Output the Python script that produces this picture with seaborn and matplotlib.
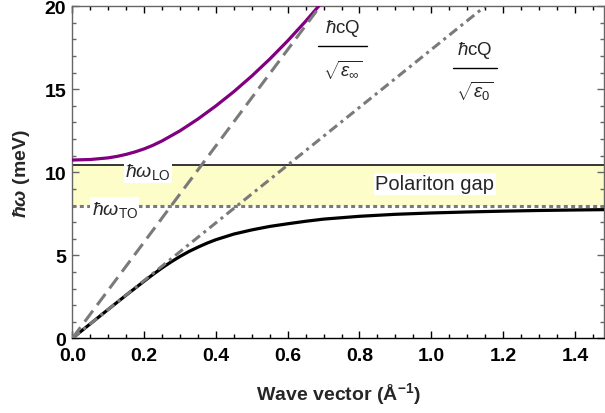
import matplotlib
matplotlib.use("Agg")
import matplotlib.pyplot as plt
from matplotlib.ticker import MultipleLocator
import seaborn as sns

# Phonon-polariton dispersion (energies in meV, wave vector in 1/Angstrom)
q_lower = [0.00, 0.05, 0.10, 0.15, 0.20, 0.225, 0.25, 0.275, 0.30, 0.325, 0.35,
           0.375, 0.40, 0.45, 0.50, 0.55, 0.60, 0.65, 0.70, 0.80, 0.90, 1.00,
           1.10, 1.20, 1.30, 1.40, 1.48]
e_lower = [0.00, 0.87, 1.74, 2.60, 3.44, 3.85, 4.24, 4.60, 4.93, 5.23, 5.49,
           5.73, 5.94, 6.28, 6.53, 6.74, 6.90, 7.05, 7.18, 7.35, 7.47, 7.55,
           7.61, 7.66, 7.70, 7.73, 7.75]

q_upper = [0.00, 0.05, 0.10, 0.125, 0.15, 0.175, 0.20, 0.225, 0.25, 0.30, 0.35,
           0.40, 0.45, 0.50, 0.55, 0.60, 0.65, 0.69]
e_upper = [10.74, 10.77, 10.87, 10.96, 11.08, 11.23, 11.41, 11.63, 11.89, 12.50,
           13.21, 14.00, 14.86, 15.80, 16.82, 17.92, 19.10, 20.10]

# photon light lines  hbar c Q / sqrt(eps)
q_light_inf = [0.0, 0.69]
e_light_inf = [0.0, 20.0]
q_light_0 = [0.0, 1.15]
e_light_0 = [0.0, 20.0]

e_lo = 10.46
e_to = 7.95

x_ticks = [0.0, 0.2, 0.4, 0.6, 0.8, 1.0, 1.2, 1.4]
y_ticks = [0, 5, 10, 15, 20]

sns.set_theme(style="ticks")
plt.rcParams["font.family"] = ["Liberation Sans", "DejaVu Sans"]
plt.rcParams["mathtext.fontset"] = "custom"
plt.rcParams["mathtext.rm"] = "Liberation Sans"
plt.rcParams["mathtext.it"] = "Liberation Sans:italic"
plt.rcParams["mathtext.bf"] = "Liberation Sans:bold"
try:
    plt.rcParams["mathtext.bfit"] = "Liberation Sans:italic:bold"
except KeyError:
    pass

fig = plt.figure(figsize=(6.05, 4.14), dpi=100)
ax = fig.add_axes([0.1195, 0.1804, 0.8788, 0.802])

grey = "#7a7a7a"
purple = "#800080"

# polariton gap band and phonon levels
ax.axhspan(e_to, e_lo, color="#fdfdc9", lw=0, zorder=0)
ax.axhline(e_lo, color="black", lw=1.1, zorder=1)
ax.axhline(e_to, color=grey, lw=2.2, linestyle=(0, (1.3, 1.1)), zorder=1)

# dispersion branches
sns.lineplot(x=q_lower, y=e_lower, ax=ax, color="black", lw=2.3,
             sort=False, estimator=None, zorder=3)
sns.lineplot(x=q_upper, y=e_upper, ax=ax, color=purple, lw=2.3,
             sort=False, estimator=None, zorder=3)

# light lines
sns.lineplot(x=q_light_inf, y=e_light_inf, ax=ax, color=grey, lw=2.2,
             linestyle=(0, (4.5, 2.3)), sort=False, estimator=None, zorder=4)
sns.lineplot(x=q_light_0, y=e_light_0, ax=ax, color=grey, lw=2.2,
             linestyle=(0, (3.2, 1.5, 1.0, 1.5)), sort=False, estimator=None, zorder=4)

ax.set_xlim(0, 1.481)
ax.set_ylim(0, 20)
ax.set_xticks(x_ticks)
ax.set_yticks(y_ticks)
ax.set_xticklabels([f"{t:.1f}" for t in x_ticks])
ax.set_yticklabels([str(t) for t in y_ticks])
ax.xaxis.set_minor_locator(MultipleLocator(0.05))
ax.yaxis.set_minor_locator(MultipleLocator(1))

frame = "#666666"
for name, s in ax.spines.items():
    s.set_visible(True)
    s.set_color("black" if name == "bottom" else frame)
    s.set_linewidth(1.0)
ax.tick_params(which="both", direction="in", top=True, right=True, width=1.0)
ax.tick_params(axis="x", which="both", color="black")
ax.tick_params(axis="y", which="both", color=frame)
ax.tick_params(which="major", length=5, labelsize=14, labelcolor="black")
ax.tick_params(axis="x", which="major", pad=6)
ax.tick_params(axis="y", which="major", pad=4.5)
ax.tick_params(which="minor", length=3)
for lab in ax.get_xticklabels() + ax.get_yticklabels():
    lab.set_fontweight("bold")

ax.set_xlabel(r"Wave vector (Å$^{\mathbf{-1}}$)", fontsize=14, fontweight="bold")
ax.set_ylabel(r"$\mathbfit{\hbar\omega}$ (meV)", fontsize=14, fontweight="bold")
ax.xaxis.set_label_coords(0.5, -0.126)
ax.yaxis.set_label_coords(-0.076, 0.5)

box = dict(facecolor="white", edgecolor="none", pad=1.0)
ax.text(0.21, 10.05, r"$\mathit{\hbar\omega}_{\mathrm{LO}}$", fontsize=14,
        ha="center", va="center", bbox=box, zorder=5)
ax.text(0.118, 7.8, r"$\mathit{\hbar\omega}_{\mathrm{TO}}$", fontsize=14,
        ha="center", va="center", bbox=box, zorder=5)
ax.text(1.01, 9.3, "Polariton gap", fontsize=14.5, ha="center", va="center",
        bbox=box, zorder=5)

# fraction labels for the light lines
def fraction(xc, y_num, y_bar, y_den, half_w, den):
    ax.text(xc, y_num, r"$\mathit{\hbar}$cQ", fontsize=13.5, ha="center",
            va="center", zorder=5)
    ax.plot([xc - half_w, xc + half_w], [y_bar, y_bar], color="black",
            lw=1.0, zorder=5)
    ax.text(xc, y_den, den, fontsize=13.5, ha="center", va="center", zorder=5)

fraction(0.753, 18.75, 17.6, 16.2, 0.068, r"$\sqrt{\mathit{\epsilon}_{\infty}}$")
fraction(1.122, 17.37, 16.26, 14.95, 0.062, r"$\sqrt{\mathit{\epsilon}_{0}}$")

fig.savefig("out.png", dpi=100)
